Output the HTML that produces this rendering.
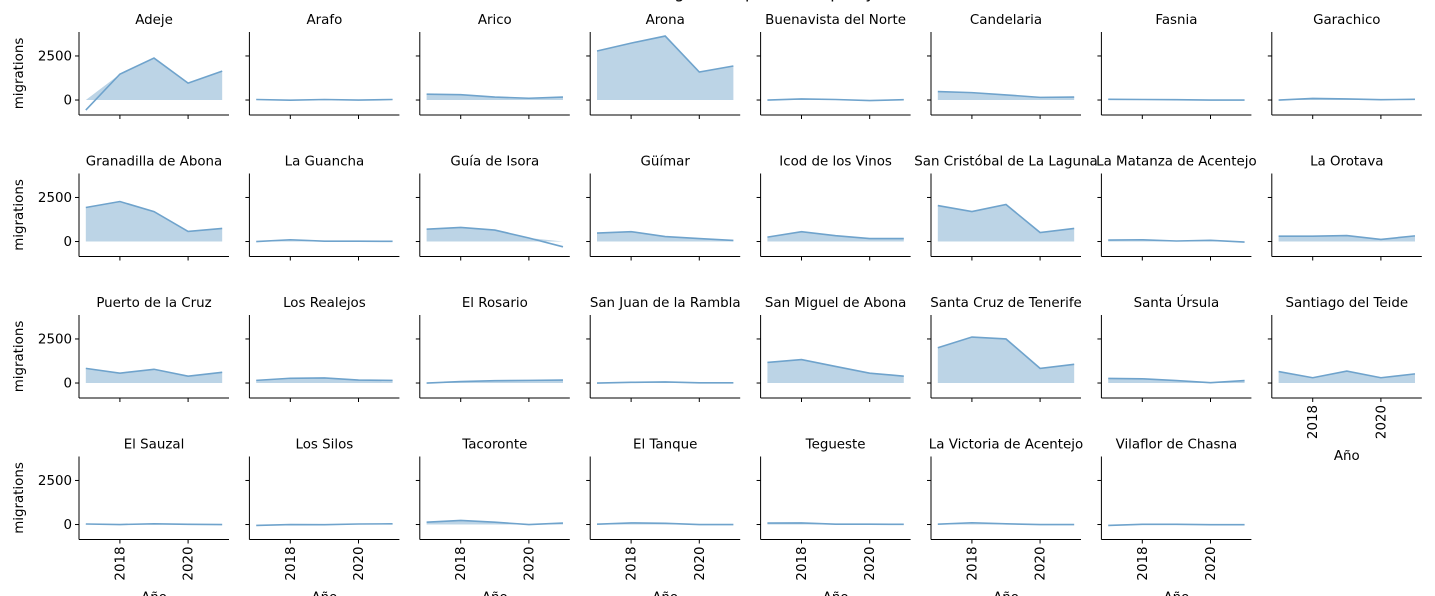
<!DOCTYPE html>
<html><head><meta charset="utf-8"><style>
body{margin:0;background:#fff;}
svg{display:block;font-family:"DejaVu Sans","Liberation Sans",sans-serif;}
</style></head><body>
<svg id="chart" width="1435" height="596" viewBox="0 0 1435 596">
<text x="748" y="-2" font-size="16" text-anchor="middle" fill="#000">Net migrations per municipality</text>
</svg>
<script>
const municipalities = ["Adeje","Arafo","Arico","Arona","Buenavista del Norte","Candelaria","Fasnia","Garachico",
"Granadilla de Abona","La Guancha","Guía de Isora","Güímar","Icod de los Vinos","San Cristóbal de La Laguna","La Matanza de Acentejo","La Orotava",
"Puerto de la Cruz","Los Realejos","El Rosario","San Juan de la Rambla","San Miguel de Abona","Santa Cruz de Tenerife","Santa Úrsula","Santiago del Teide",
"El Sauzal","Los Silos","Tacoronte","El Tanque","Tegueste","La Victoria de Acentejo","Vilaflor de Chasna"];
const years = [2017,2018,2019,2020,2021];
const migrations = [
[-570,1470,2380,960,1640],[30,-10,30,0,30],[330,300,170,100,170],[2780,3230,3630,1590,1930],
[0,60,30,-30,20],[480,420,290,150,170],[40,30,20,0,0],[0,90,60,20,40],
[1930,2270,1700,570,740],[0,100,20,20,10],[700,800,650,200,-300],[480,560,280,170,60],
[250,560,330,170,170],[2040,1700,2100,510,740],[80,100,30,70,-30],[300,300,340,120,320],
[830,560,780,390,610],[150,270,290,170,150],[0,80,130,150,170],[0,40,60,10,10],
[1170,1330,940,560,390],[2000,2610,2500,830,1060],[260,240,140,20,140],[650,300,680,300,520],
[30,0,40,10,0],[-50,0,-10,30,40],[130,230,130,0,80],[20,90,70,0,0],
[80,90,20,20,10],[20,100,40,0,0],[-50,10,10,-10,-10]];
const yTicks = [0,2500];
const xTicks = [2018,2020];

const svg = document.getElementById('chart');
const NS = "http://www.w3.org/2000/svg";
const PW=150, PH=83, X0=79, Y0=32, DX=170.4, DY=141.5;
const XMIN=2016.8, XMAX=2021.2, YMIN=-850, YMAX=3860;
const FS=13.4;
function mk(t,a){const e=document.createElementNS(NS,t);for(const k in a)e.setAttribute(k,a[k]);return e;}
function slug(s){return s.normalize('NFD').replace(/[\u0300-\u036f]/g,'').toLowerCase().replace(/[^a-z0-9]+/g,'-');}

municipalities.forEach((name,i)=>{
  const col=i%8, row=Math.floor(i/8);
  const left=X0+col*DX, top=Y0+row*DY;
  const sx=v=>left+(v-XMIN)/(XMAX-XMIN)*PW;
  const sy=v=>top+(YMAX-v)/(YMAX-YMIN)*PH;
  const g=mk('g',{});
  
  
  svg.appendChild(g);
  const vals=migrations[i];
  let d='M'+sx(years[0])+','+sy(0);
  years.forEach((y,j)=>{d+=' L'+sx(y)+','+sy(Math.max(vals[j],0));});
  d+=' L'+sx(years[years.length-1])+','+sy(0)+' Z';
  const area=mk('path',{d:d,fill:'#bcd4e6'});
  
  
  g.appendChild(area);
  const line=mk('polyline',{points:years.map((y,j)=>sx(y)+','+sy(vals[j])).join(' '),fill:'none',stroke:'#6fa3cc','stroke-width':1.6});
  
  
  g.appendChild(line);
  g.appendChild(mk('line',{x1:left,y1:top,x2:left,y2:top+PH,stroke:'#000','stroke-width':1}));
  g.appendChild(mk('line',{x1:left,y1:top+PH,x2:left+PW,y2:top+PH,stroke:'#000','stroke-width':1}));
  const t=mk('text',{x:left+PW/2,y:top-8,'font-size':FS,'text-anchor':'middle',fill:'#000'});
  t.textContent=name;
  
  
  g.appendChild(t);
  yTicks.forEach(v=>{
    g.appendChild(mk('line',{x1:left-4,y1:sy(v),x2:left,y2:sy(v),stroke:'#000'}));
    if(col===0){
      const tl=mk('text',{x:left-7,y:sy(v)+4.5,'font-size':FS,'text-anchor':'end'});
      tl.textContent=String(v);
      
      
      g.appendChild(tl);
    }
  });
  if(col===0){
    const yl=mk('text',{x:0,y:0,'font-size':FS,'text-anchor':'middle',transform:`translate(${left-56},${top+PH/2}) rotate(-90)`});
    yl.textContent='migrations';
    
    
    g.appendChild(yl);
  }
  const bottom = (i+8>=municipalities.length);
  xTicks.forEach(v=>{
    g.appendChild(mk('line',{x1:sx(v),y1:top+PH,x2:sx(v),y2:top+PH+4,stroke:'#000'}));
    if(bottom){
      const xl=mk('text',{x:0,y:0,'font-size':FS,'text-anchor':'end',transform:`translate(${sx(v)+4.5},${top+PH+7}) rotate(-90)`});
      xl.textContent=String(v);
      
      
      g.appendChild(xl);
    }
  });
  if(bottom){
    const xt=mk('text',{x:left+PW/2,y:top+PH+62,'font-size':FS,'text-anchor':'middle'});
    xt.textContent='Año';
    
    
    g.appendChild(xt);
  }
});
</script>
</body></html>
